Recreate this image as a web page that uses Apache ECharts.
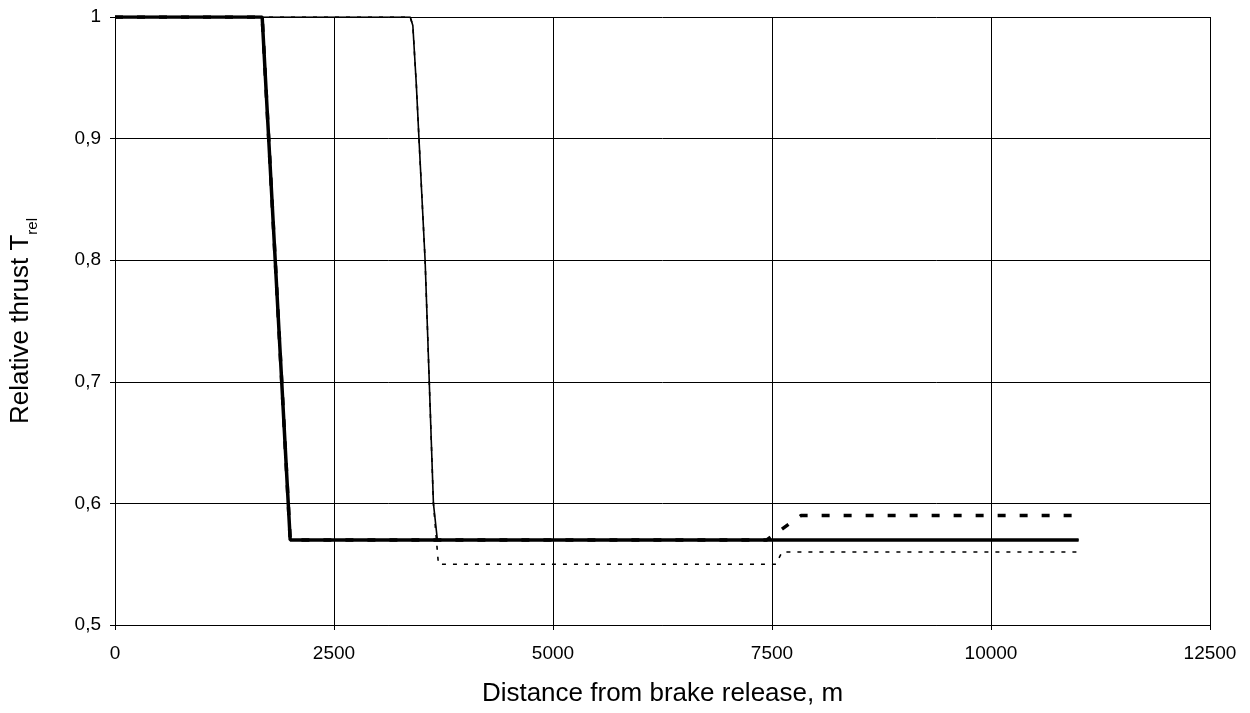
<!DOCTYPE html>
<html>
<head>
<meta charset="utf-8">
<script src="https://cdn.jsdelivr.net/npm/echarts@6/dist/echarts.min.js"></script>
<style>html,body{margin:0;padding:0;background:#fff}#c{width:1250px;height:713px}</style>
</head>
<body>
<div id="c"></div>
<script>
// Thick solid line
const thickSolid = [[0,1],[1680,1],[2000,0.57],[11000,0.57]];
// Thick dashed line
const thickDashed = [[0,1],[1680,1],[2000,0.57],[7440,0.57],[7830,0.59],[11000,0.59]];
// Thin solid line
const thinSolid = [[0,1],[3370,1],[3400,0.993],[3440,0.944],[3470,0.9],[3540,0.8],[3578,0.72],[3635,0.6],[3680,0.57],[11000,0.57]];
// Thin dotted line
const thinDotted = [[0,1],[3370,1],[3400,0.993],[3440,0.944],[3470,0.9],[3540,0.8],[3578,0.72],[3635,0.6],[3692,0.55],[7545,0.55],[7614,0.56],[11000,0.56]];
const xTicks = [0,2500,5000,7500,10000,12500];
const yTicks = [0.5,0.6,0.7,0.8,0.9,1];

const chart = echarts.init(document.getElementById('c'));
const FONT = 'Liberation Sans, Arial, sans-serif';
chart.setOption({
  animation: false,
  grid: {left: 115, right: 40, top: 17, bottom: 88},
  xAxis: {
    type: 'value', min: 0, max: 12500, interval: 2500,
    name: 'Distance from brake release, m', nameLocation: 'middle', nameGap: 56,
    nameTextStyle: {fontFamily: FONT, fontSize: 26, lineHeight: 26, color: '#000'},
    axisLine: {show: true, lineStyle: {color: '#000', width: 1}},
    axisTick: {show: true, length: 5, lineStyle: {color: '#000'}},
    axisLabel: {fontFamily: FONT, fontSize: 19, color: '#000', margin: 19,
      formatter: v => xTicks.includes(v) ? String(v) : ''},
    splitLine: {show: true, lineStyle: {color: '#000', width: 1}}
  },
  yAxis: {
    type: 'value', min: 0.5, max: 1, interval: 0.1,
    name: '{a|Relative thrust T}{b|rel}', nameLocation: 'middle', nameGap: 75,
    nameTextStyle: {fontFamily: FONT, color: '#000',
      rich: {a: {fontFamily: FONT, fontSize: 26, lineHeight: 32, color: '#000', verticalAlign: 'top'},
             b: {fontFamily: FONT, fontSize: 15, lineHeight: 15, color: '#000', verticalAlign: 'bottom'}}},
    axisLine: {show: true, lineStyle: {color: '#000', width: 1}},
    axisTick: {show: true, length: 5, lineStyle: {color: '#000'}},
    axisLabel: {fontFamily: FONT, fontSize: 19, color: '#000', margin: 14,
      formatter: v => { const t = yTicks.find(y => Math.abs(y - v) < 1e-9); return t === undefined ? '' : String(Math.round(t*10)/10).replace('.', ','); }},
    splitLine: {show: true, lineStyle: {color: '#000', width: 1}}
  },
  series: [
    {type: 'line', data: thinDotted, symbol: 'none', z: 2,
     lineStyle: {color: '#000', width: 1.6, type: [4, 7]}},
    {type: 'line', data: thinSolid, symbol: 'none', z: 3,
     lineStyle: {color: '#000', width: 1.6}},
    {type: 'line', data: thickSolid, symbol: 'none', z: 4,
     lineStyle: {color: '#000', width: 3.5}},
    {type: 'line', data: thickDashed, symbol: 'none', z: 5,
     lineStyle: {color: '#000', width: 3.5, type: [8, 14]}}
  ]
});
</script>
</body>
</html>
